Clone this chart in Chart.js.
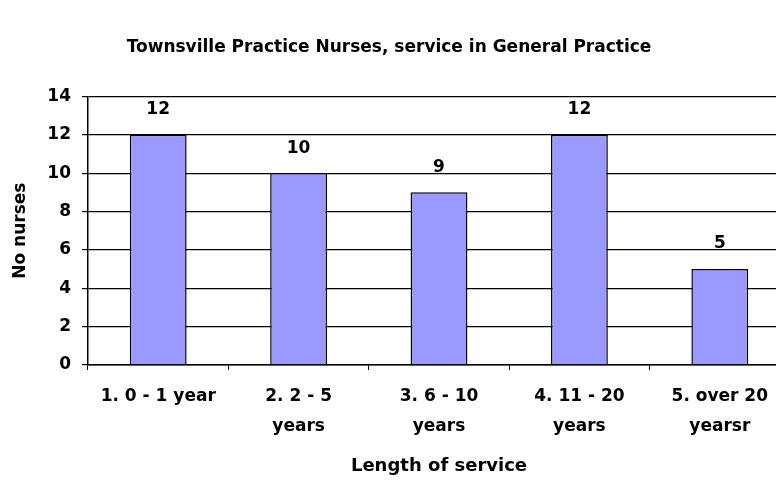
<!DOCTYPE html>
<html>
<head>
<meta charset="utf-8">
<script src="https://cdn.jsdelivr.net/npm/chart.js@4/dist/chart.umd.min.js"></script>
<style>
	html, body { margin: 0; padding: 0; background: #fff; overflow: hidden; }
	#wrap { width: 776px; height: 480px; overflow: hidden; }
</style>
</head>
<body>
<div id="wrap"><canvas id="nurses" width="790" height="480"></canvas></div>
<script>

	/* Townsville practice nurses - length of service */

	var chartTitle = 'Townsville Practice Nurses, service in General Practice';
	var serviceLabels = [
		['1. 0 - 1 year'],
		['2. 2 - 5', 'years'],
		['3. 6 - 10', 'years'],
		['4. 11 - 20', 'years'],
		['5. over 20', 'yearsr']
	];
	var nurseCounts = [12, 10, 9, 12, 5];
	var yTicks = [0, 2, 4, 6, 8, 10, 12, 14];

	Chart.defaults.font.family = "'DejaVu Sans', sans-serif";
	Chart.defaults.font.weight = 'bold';
	Chart.defaults.color = '#000';

	// numbers above each bar
	var barValues = {
		id: 'barValues',
		afterDatasetsDraw: function(chart) {
			var ctx = chart.ctx;
			var meta = chart.getDatasetMeta(0);
			ctx.save();
			ctx.font = "bold 17px 'DejaVu Sans', sans-serif";
			ctx.fillStyle = '#000';
			ctx.textAlign = 'center';
			ctx.textBaseline = 'middle';
			meta.data.forEach(function(bar, i) {
				ctx.fillText(String(nurseCounts[i]), bar.x, bar.y - 25);
			});
			ctx.restore();
		}
	};

	var nursesCtx = document.getElementById('nurses');

	var nursesChart = new Chart(nursesCtx, {
		type: 'bar',
		data: {
			labels: serviceLabels,
			datasets: [{
				label: 'No nurses',
				data: nurseCounts,
				backgroundColor: '#9999FF',
				borderColor: '#000',
				borderWidth: 1.5,
				categoryPercentage: 1,
				barPercentage: 0.405
			}]
		},
		plugins: [barValues],
		options: {
			responsive: false,
			animation: false,
			layout: {
				padding: { left: -12, right: 0, top: 19, bottom: 1 }
			},
			plugins: {
				legend: { display: false },
				tooltip: { enabled: false },
				title: {
					display: true,
					text: chartTitle,
					font: { size: 17, weight: 'bold', lineHeight: 1.2 },
					color: '#000',
					padding: { top: 18, bottom: 39 }
				}
			},
			scales: {
				x: {
					grid: {
						display: true,
						drawOnChartArea: false,
						drawTicks: true,
						tickLength: 5,
						color: '#000'
					},
					border: { display: true, color: '#000', width: 1.5 },
					ticks: {
						font: { size: 17, weight: 'bold', lineHeight: 1.75 },
						padding: 12,
						maxRotation: 0,
						autoSkip: false
					},
					title: {
						display: true,
						text: 'Length of service',
						font: { size: 18, weight: 'bold', lineHeight: 1.2 },
						padding: { top: 2, bottom: 2 }
					}
				},
				y: {
					min: 0,
					max: 14,
					afterBuildTicks: function(scale) {
						scale.ticks = yTicks.map(function(v) { return { value: v }; });
					},
					afterFit: function(scale) {
						scale.width = 100;
					},
					grid: {
						color: '#000',
						lineWidth: 1.2,
						tickLength: 6
					},
					border: { display: true, color: '#000', width: 1.5 },
					ticks: {
						font: { size: 17, weight: 'bold' },
						padding: 11
					},
					title: {
						display: true,
						text: 'No nurses',
						font: { size: 17, weight: 'bold', lineHeight: 1.2 },
						padding: { top: 22, bottom: 4 }
					}
				}
			}
		}
	});

</script>
</body>
</html>
